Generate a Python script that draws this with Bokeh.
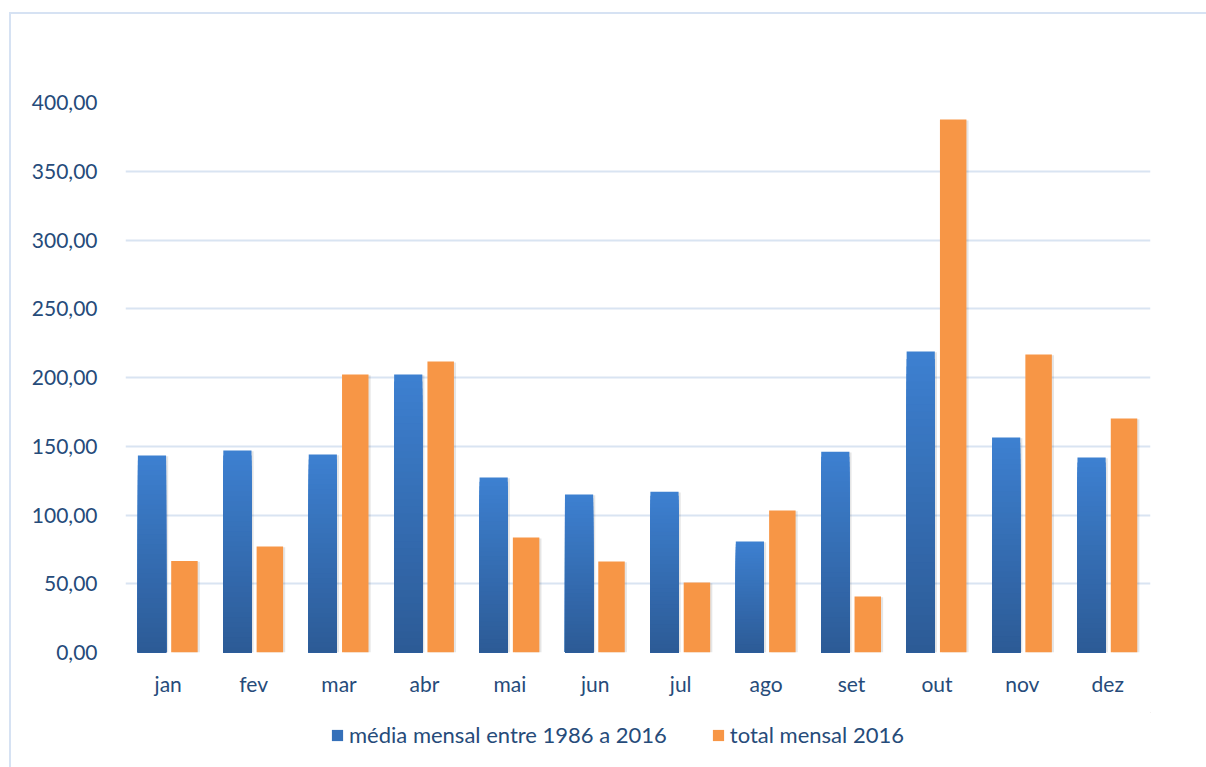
import numpy as np
from bokeh.plotting import figure
from bokeh.layouts import column
from bokeh.models import ColumnDataSource, FixedTicker, Legend, LegendItem
from bokeh.embed import file_html
from bokeh.resources import INLINE

months = ["jan", "fev", "mar", "abr", "mai", "jun", "jul", "ago", "set", "out", "nov", "dez"]
media = [143.3, 146.9, 144.0, 202.2, 127.3, 115.0, 117.0, 80.7, 146.0, 218.9, 156.4, 141.8]
total = [66.6, 77.1, 202.2, 211.6, 83.6, 66.2, 51.0, 103.3, 40.7, 387.6, 216.7, 170.2]
series_names = ["média mensal entre 1986 a 2016", "total mensal 2016"]
y_ticks = [0, 50, 100, 150, 200, 250, 300, 350, 400]
y_labels = ["0,00", "50,00", "100,00", "150,00", "200,00", "250,00", "300,00", "350,00", "400,00"]

TEXT = "#264b7a"
GRID = "#d9e4f2"
FONT = "Lato"

p = figure(width=1195, height=698, x_range=(0, 12), y_range=(0, 400),
           output_backend="svg", toolbar_location=None,
           min_border_left=114, min_border_right=56, min_border_top=88, min_border_bottom=60)
p.outline_line_color = None
p.background_fill_color = "white"
p.border_fill_color = "white"

def lerp(c1, c2, t):
    a = np.array([int(c1[i:i+2], 16) for i in (1, 3, 5)], float)
    b = np.array([int(c2[i:i+2], 16) for i in (1, 3, 5)], float)
    c = a + (b - a) * t
    return "#%02x%02x%02x" % tuple(int(round(v)) for v in c)

N = 40
xc = np.arange(len(months)) + 0.5
off = 0.19
w_blue = 0.33
w_or = 0.31

# soft shadows
p.vbar(x=xc - off + 0.025, top=np.array(media) - 0.6, bottom=-2, width=w_blue,
       fill_color="#000000", fill_alpha=0.10, line_color=None)
p.vbar(x=xc + off + 0.025, top=np.array(total) - 0.6, bottom=-2, width=w_or,
       fill_color="#000000", fill_alpha=0.10, line_color=None)

# gradient blue bars (painted tallest/lightest first)
bx, btop, bcol = [], [], []
for k in range(N):
    f = (N - k) / N
    for i, v in enumerate(media):
        bx.append(xc[i] - off)
        btop.append(v * f)
        bcol.append(lerp("#2c5a95", "#3d80d0", f))
src_b = ColumnDataSource(dict(x=bx, top=btop, color=bcol))
p.vbar(x="x", top="top", bottom=0, width=w_blue, fill_color="color", line_color=None, source=src_b)

p.vbar(x=xc + off, top=total, bottom=0, width=w_or, fill_color="#f79646", line_color=None)

p.xaxis.ticker = FixedTicker(ticks=list(xc))
p.xaxis.major_label_overrides = {float(x): m for x, m in zip(xc, months)}
p.yaxis.ticker = FixedTicker(ticks=y_ticks)
p.yaxis.major_label_overrides = {t: l for t, l in zip(y_ticks, y_labels)}

for ax in (p.xaxis[0], p.yaxis[0]):
    ax.axis_line_color = None
    ax.major_tick_line_color = None
    ax.minor_tick_line_color = None
    ax.major_label_text_font = FONT
    ax.major_label_text_font_size = "21px"
    ax.major_label_text_color = TEXT
p.yaxis.major_label_standoff = 22
p.xaxis.major_label_standoff = 12

p.xgrid.grid_line_color = None
p.ygrid.grid_line_color = GRID
p.ygrid.grid_line_width = 2

# legend strip
p2 = figure(width=1195, height=55, x_range=(0, 1), y_range=(0, 1),
            output_backend="svg", toolbar_location=None,
            x_axis_type=None, y_axis_type=None,
            min_border_left=0, min_border_right=0, min_border_top=0, min_border_bottom=0)
p2.outline_line_color = None
p2.grid.visible = False
lb = p2.vbar(x=[5], top=[6], bottom=5, width=0.1, fill_color="#3570b9", line_color=None)
lo = p2.vbar(x=[5], top=[6], bottom=5, width=0.1, fill_color="#f79646", line_color=None)
legend = Legend(items=[LegendItem(label=series_names[0], renderers=[lb]),
                       LegendItem(label=series_names[1], renderers=[lo])],
                orientation="horizontal", location=(205, 19),
                label_text_font=FONT, label_text_font_size="22px", label_text_color=TEXT,
                glyph_width=14, glyph_height=14, spacing=44, label_standoff=5,
                border_line_color=None, background_fill_alpha=0, margin=0, padding=0)
p2.add_layout(legend)

lay = column(p, p2, spacing=0)
lay.margin = (12, 0, 0, 9)
lay.styles = {"border-top": "2px solid #d6e2f3", "border-left": "2px solid #d6e2f3"}

open("out.html", "w").write(file_html(lay, INLINE))
